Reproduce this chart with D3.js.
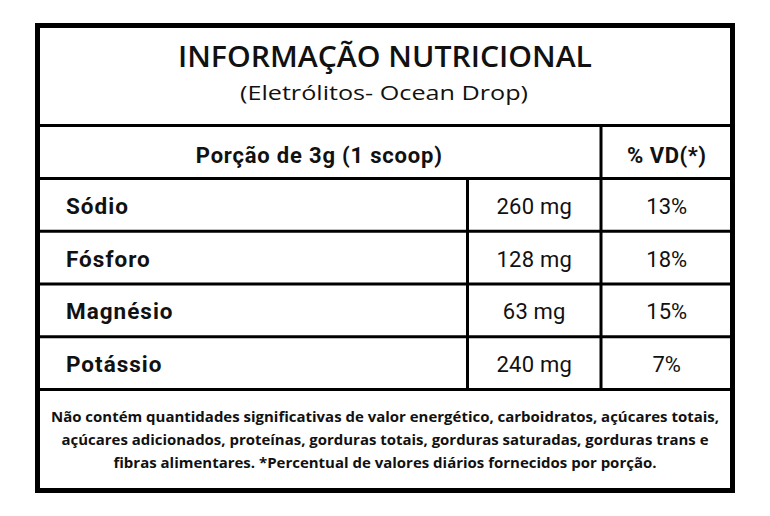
<!DOCTYPE html>
<html>
<head>
<meta charset="utf-8">
<script src="https://cdn.jsdelivr.net/npm/d3@7"></script>
<style>
  body { margin: 0; background: #fff; }
  text { fill: #111; }
</style>
</head>
<body>
<div id="chart"></div>
<script>
const title = 'INFORMAÇÃO NUTRICIONAL';
const subtitle = '(Eletrólitos- Ocean Drop)';
const servingLabel = 'Porção de 3g (1 scoop)';
const dvLabel = '% VD(*)';
const nutrients = ['Sódio', 'Fósforo', 'Magnésio', 'Potássio'];
const amounts = ['260 mg', '128 mg', '63 mg', '240 mg'];
const dailyValues = ['13%', '18%', '15%', '7%'];
const footnotes = [
  'Não contém quantidades significativas de valor energético, carboidratos, açúcares totais,',
  'açúcares adicionados, proteínas, gorduras totais, gorduras saturadas, gorduras trans e',
  'fibras alimentares. *Percentual de valores diários fornecidos por porção.'
];

const width = 770;
const height = 516;
const boxLeft = 37.5, boxRight = 732.5, boxTop = 25.5, boxBottom = 490.5;
const titleBottom = 125.5;
const headerBottom = 178.5;
const tableBottom = 389.5;
const col1 = 467.5, col2 = 601;

const svg = d3.select('#chart').append('svg')
  .attr('width', width)
  .attr('height', height);

const y = d3.scaleBand()
  .domain(nutrients)
  .range([headerBottom, tableBottom]);

const rows = nutrients.map((n, i) => ({ name: n, amount: amounts[i], dv: dailyValues[i] }));

// grid lines
const lines = svg.append('g').attr('class', 'lines')
  .attr('stroke', '#000')
  .attr('stroke-width', 3);

lines.selectAll('line.h')
  .data([titleBottom, headerBottom].concat(nutrients.slice(1).map(d => y(d)), [tableBottom]))
  .enter()
  .append('line')
  .attr('class', 'h')
  .attr('x1', boxLeft)
  .attr('x2', boxRight)
  .attr('y1', d => d)
  .attr('y2', d => d);

lines.append('line')
  .attr('x1', col1).attr('x2', col1)
  .attr('y1', headerBottom).attr('y2', tableBottom);

lines.append('line')
  .attr('x1', col2).attr('x2', col2)
  .attr('y1', titleBottom).attr('y2', tableBottom);

svg.append('rect')
  .attr('x', boxLeft)
  .attr('y', boxTop)
  .attr('width', boxRight - boxLeft)
  .attr('height', boxBottom - boxTop)
  .attr('fill', 'none')
  .attr('stroke', '#000')
  .attr('stroke-width', 5);

// header texts
const mid = (boxLeft + boxRight) / 2;

svg.append('text')
  .attr('x', mid)
  .attr('y', 66.5)
  .attr('text-anchor', 'middle')
  .attr('font-family', 'Open Sans')
  .attr('font-weight', 600)
  .attr('font-size', 29)
  .attr('textLength', 414)
  .attr('lengthAdjust', 'spacingAndGlyphs')
  .text(title);

svg.append('text')
  .attr('x', 384)
  .attr('y', 100)
  .attr('text-anchor', 'middle')
  .attr('font-family', 'Open Sans')
  .attr('font-size', 20.5)
  .attr('textLength', 288)
  .attr('lengthAdjust', 'spacingAndGlyphs')
  .text(subtitle);

svg.append('text')
  .attr('x', (boxLeft + col2) / 2)
  .attr('y', 163)
  .attr('text-anchor', 'middle')
  .attr('font-family', 'Roboto')
  .attr('font-weight', 700)
  .attr('font-size', 22)
  .attr('letter-spacing', 0.8)
  .text(servingLabel);

svg.append('text')
  .attr('x', (col2 + boxRight) / 2)
  .attr('y', 163)
  .attr('text-anchor', 'middle')
  .attr('font-family', 'Roboto')
  .attr('font-weight', 700)
  .attr('font-size', 22)
  .attr('letter-spacing', 0.5)
  .text(dvLabel);

// body rows
const row = svg.append('g').attr('class', 'rows')
  .selectAll('g')
  .data(rows)
  .enter()
  .append('g')
  .attr('transform', d => `translate(0,${y(d.name) + y.bandwidth() / 2 + 9})`)
  .attr('font-family', 'Roboto')
  .attr('font-size', 22);

row.append('text')
  .attr('x', 66)
  .attr('font-weight', 700)
  .attr('font-size', 22.5)
  .attr('letter-spacing', 1)
  .text(d => d.name);

row.append('text')
  .attr('x', (col1 + col2) / 2)
  .attr('text-anchor', 'middle')
  .attr('letter-spacing', 0.2)
  .text(d => d.amount);

row.append('text')
  .attr('x', (col2 + boxRight) / 2)
  .attr('text-anchor', 'middle')
  .text(d => d.dv);

// footnote
const footWidths = [668, 647, 543];
svg.append('g').attr('class', 'foot')
  .selectAll('text')
  .data(footnotes)
  .enter()
  .append('text')
  .attr('x', 385)
  .attr('y', (d, i) => 421.5 + i * 23)
  .attr('text-anchor', 'middle')
  .attr('font-family', 'Open Sans')
  .attr('font-weight', 700)
  .attr('font-size', 14.5)
  .attr('textLength', (d, i) => footWidths[i])
  .attr('lengthAdjust', 'spacingAndGlyphs')
  .text(d => d);
</script>
</body>
</html>
